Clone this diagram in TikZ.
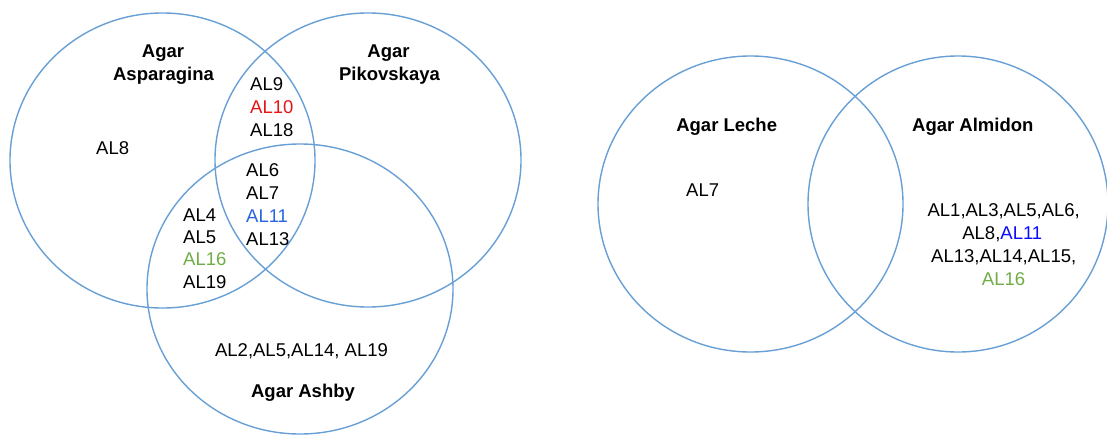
\documentclass[tikz,border=0pt]{standalone}
\usepackage{fontspec}
\setmainfont{Liberation Sans}
\definecolor{vline}{RGB}{104,160,214}
\definecolor{alred}{RGB}{230,20,20}
\definecolor{alblueA}{RGB}{40,100,225}
\definecolor{alblueB}{RGB}{10,10,255}
\definecolor{algreen}{RGB}{112,173,71}
\begin{document}
\begin{tikzpicture}[x=1pt,y=-1pt,
  ring/.style={draw=vline, line width=1.4pt},
  lbl/.style={font=\fontsize{18.5}{23}\selectfont, inner sep=0pt, anchor=base west},
  clbl/.style={font=\fontsize{18.5}{23}\selectfont, inner sep=0pt, anchor=base},
  ttl/.style={font=\bfseries\fontsize{18.5}{23}\selectfont, inner sep=0pt, anchor=base},
]
\useasboundingbox[fill=white] (0,0) rectangle (1107,436);
% left group
\draw[ring] (162.5,160.5) ellipse [x radius=152.5, y radius=147.5];
\draw[ring] (368,160) ellipse [x radius=153, y radius=147];
\draw[ring] (300,289) ellipse [x radius=153, y radius=145];
% right group
\draw[ring] (750.5,204) ellipse [x radius=152.5, y radius=148];
\draw[ring] (958,204) ellipse [x radius=150, y radius=148];

% titles
\node[ttl] (t1a) at (163,57) {Agar};
\node[ttl] (t1b) at (163.5,80) {Asparagina};
\node[ttl] (t2a) at (388.5,57) {Agar};
\node[ttl] (t2b) at (389.5,80) {Pikovskaya};
\node[ttl] (t3) at (303,397) {Agar Ashby};
\node[ttl] (t4) at (726.7,131.5) {Agar Leche};
\node[ttl] (t5) at (972.8,131.5) {Agar Almidon};

% left group labels
\node[lbl] (al8) at (96,154) {AL8};
\node[lbl] (al9) at (250,90.7) {AL9};
\node[lbl, text=alred] (al10) at (250,113.5) {AL10};
\node[lbl] (al18) at (250,136.3) {AL18};
\node[lbl] (al6) at (246,176.7) {AL6};
\node[lbl] (al7) at (246,199.5) {AL7};
\node[lbl, text=alblueA] (al11) at (246,222.3) {AL11};
\node[lbl] (al13) at (246,245) {AL13};
\node[lbl] (al4) at (183,221.7) {AL4};
\node[lbl] (al5) at (183,243) {AL5};
\node[lbl, text=algreen] (al16) at (183,265.5) {AL16};
\node[lbl] (al19) at (183,288.3) {AL19};
\node[clbl] (ashby) at (301.5,356) {AL2,AL5,AL14, AL19};

% right group labels
\node[lbl] (al7b) at (686,196.7) {AL7};
\node[clbl] (r1) at (1003.7,216) {AL1,AL3,AL5,AL6,};
\node[clbl] (r2) at (1002.3,239) {AL8,\textcolor{alblueB}{AL11}};
\node[clbl] (r3) at (1003.7,262.3) {AL13,AL14,AL15,};
\node[clbl, text=algreen] (r4) at (1003.5,285) {AL16};
\end{tikzpicture}
\end{document}
